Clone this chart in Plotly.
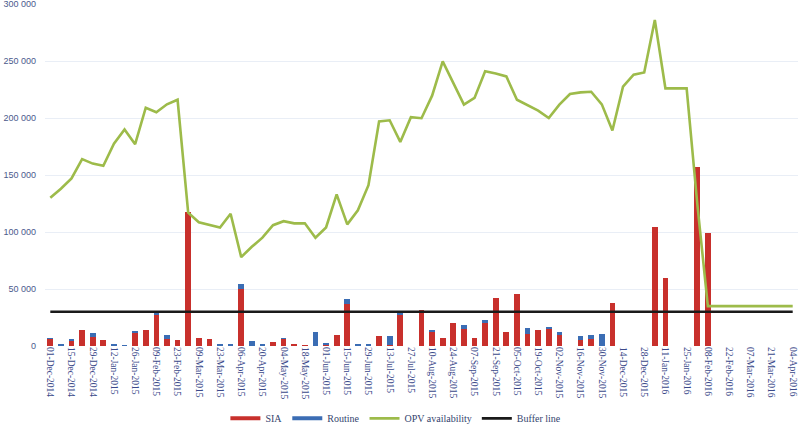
import plotly.graph_objects as go

weeks = [
    "01-Dec-2014", "08-Dec-2014", "15-Dec-2014", "22-Dec-2014", "29-Dec-2014",
    "05-Jan-2015", "12-Jan-2015", "19-Jan-2015", "26-Jan-2015", "02-Feb-2015",
    "09-Feb-2015", "16-Feb-2015", "23-Feb-2015", "02-Mar-2015", "09-Mar-2015",
    "16-Mar-2015", "23-Mar-2015", "30-Mar-2015", "06-Apr-2015", "13-Apr-2015",
    "20-Apr-2015", "27-Apr-2015", "04-May-2015", "11-May-2015", "18-May-2015",
    "25-May-2015", "01-Jun-2015", "08-Jun-2015", "15-Jun-2015", "22-Jun-2015",
    "29-Jun-2015", "06-Jul-2015", "13-Jul-2015", "20-Jul-2015", "27-Jul-2015",
    "03-Aug-2015", "10-Aug-2015", "17-Aug-2015", "24-Aug-2015", "31-Aug-2015",
    "07-Sep-2015", "14-Sep-2015", "21-Sep-2015", "28-Sep-2015", "05-Oct-2015",
    "12-Oct-2015", "19-Oct-2015", "26-Oct-2015", "02-Nov-2015", "09-Nov-2015",
    "16-Nov-2015", "23-Nov-2015", "30-Nov-2015", "07-Dec-2015", "14-Dec-2015",
    "21-Dec-2015", "28-Dec-2015", "04-Jan-2016", "11-Jan-2016", "18-Jan-2016",
    "25-Jan-2016", "01-Feb-2016", "08-Feb-2016", "15-Feb-2016", "22-Feb-2016",
    "29-Feb-2016", "07-Mar-2016", "14-Mar-2016", "21-Mar-2016", "28-Mar-2016",
    "04-Apr-2016",
]

tick_labels = [
    "01-Dec-2014", "15-Dec-2014", "29-Dec-2014", "12-Jan-2015", "26-Jan-2015",
    "09-Feb-2015", "23-Feb-2015", "09-Mar-2015", "23-Mar-2015", "06-Apr-2015",
    "20-Apr-2015", "04-May-2015", "18-May-2015", "01-Jun-2015", "15-Jun-2015",
    "29-Jun-2015", "13-Jul-2015", "27-Jul-2015", "10-Aug-2015", "24-Aug-2015",
    "07-Sep-2015", "21-Sep-2015", "05-Oct-2015", "19-Oct-2015", "02-Nov-2015",
    "16-Nov-2015", "30-Nov-2015", "14-Dec-2015", "28-Dec-2015", "11-Jan-2016",
    "25-Jan-2016", "08-Feb-2016", "22-Feb-2016", "07-Mar-2016", "21-Mar-2016",
    "04-Apr-2016",
]

sia = [
    6500, 0, 4400, 14000, 8200, 5300, 0, 0, 11000, 14000,
    27500, 6000, 5500, 117500, 7000, 6400, 0, 0, 50000, 0,
    0, 3200, 6400, 2000, 600, 0, 1200, 10000, 36500, 0,
    0, 9000, 800, 27400, 0, 32000, 12000, 7300, 20000, 15000,
    7300, 20000, 42000, 12000, 45500, 10500, 14000, 15500, 10500, 0,
    5300, 5800, 0, 38000, 0, 0, 0, 104000, 59500, 0,
    0, 157000, 99000, 0, 0, 0, 0, 0, 0, 0,
    0,
]

routine = [
    500, 1200, 1500, 0, 2900, 0, 2000, 600, 2000, 0,
    1200, 4000, 0, 0, 0, 0, 1800, 1200, 4000, 4000,
    1800, 0, 500, 0, 0, 12500, 1100, 0, 4500, 1200,
    1000, 0, 8200, 2600, 0, 0, 2000, 0, 0, 3500,
    0, 2800, 0, 0, 0, 5000, 0, 800, 1500, 0,
    3500, 3800, 10500, 0, 0, 0, 0, 0, 0, 0,
    0, 0, 0, 0, 0, 0, 0, 0, 0, 0,
    0,
]

opv = [
    130000, 138000, 147000, 164000, 160000, 158000, 177500, 190000, 177000, 209000,
    205000, 212000, 216000, 117000, 108500, 106000, 104000, 116000, 78000, 87000,
    95000, 106000, 109500, 107600, 107600, 95000, 104000, 133000, 106700, 119000,
    141000, 197000, 198000, 179000, 200700, 199800, 219600, 249700, 231000, 211700,
    217600, 241000, 239000, 236500, 216000, 211000, 206500, 200000, 211700, 221000,
    222500, 223000, 212000, 189000, 227500, 238000, 240000, 286000, 226000, 226000,
    226000, 125000, 35000, 35000, 35000, 35000, 35000, 35000, 35000, 35000,
    35000,
]

buffer_line = [30000] * len(weeks)

RED = "#c8302c"
BLUE = "#3b6db4"
GREEN = "#9dbb4a"
BLACK = "#1a1a1a"

fig = go.Figure()
fig.add_trace(go.Bar(x=weeks, y=sia, name="SIA", marker=dict(color=RED, line_width=0),
                     showlegend=False))
fig.add_trace(go.Bar(x=weeks, y=routine, name="Routine", marker=dict(color=BLUE, line_width=0),
                     showlegend=False))
fig.add_trace(go.Scatter(x=weeks, y=opv, name="OPV availability", mode="lines",
                         line=dict(color=GREEN, width=2.6), showlegend=False))
fig.add_trace(go.Scatter(x=weeks, y=buffer_line, name="Buffer line", mode="lines",
                         line=dict(color=BLACK, width=2.6), showlegend=False))

# legend entries drawn as line swatches
for nm, col in [("SIA", RED), ("Routine", BLUE), ("OPV availability", GREEN), ("Buffer line", BLACK)]:
    fig.add_trace(go.Scatter(x=[None], y=[None], name=nm, mode="lines",
                             line=dict(color=col, width=4 if nm in ("SIA", "Routine") else 2.6)))

fig.update_layout(
    width=798, height=426,
    margin=dict(l=45, r=0, t=4, b=80),
    barmode="stack",
    bargap=0.46,
    plot_bgcolor="white",
    paper_bgcolor="white",
    separators=". ",
    font=dict(family="Liberation Serif", size=10, color="#34446e"),
    legend=dict(orientation="h", x=0.466, xanchor="center",
                yref="container", y=0.018, yanchor="middle",
                font=dict(family="Liberation Serif", size=10, color="#34446e"),
                itemwidth=30, traceorder="normal"),
    xaxis=dict(
        type="category",
        categoryorder="array", categoryarray=weeks,
        tickmode="array", tickvals=tick_labels, ticktext=tick_labels,
        tickangle=90,
        tickfont=dict(family="Liberation Serif", size=9.5, color="#3b4a8a"),
        showgrid=False, zeroline=False, showline=False, ticks="",
        range=[-0.5, len(weeks) - 0.5],
        automargin=False, ticklabeloverflow="allow",
    ),
    yaxis=dict(
        range=[0, 300000], dtick=50000, tickformat=",d",
        tickfont=dict(family="Liberation Sans", size=9, color="#4a5a8c"),
        showgrid=True, gridcolor="#e9eef6", gridwidth=1,
        zeroline=False, showline=False, ticks="",
        ticklabelstandoff=8,
        automargin=False, ticklabeloverflow="allow",
    ),
)

fig.write_html("out.html",
               config={"displayModeBar": False},
               post_script="document.body.style.margin='0';document.body.style.overflow='hidden';")
